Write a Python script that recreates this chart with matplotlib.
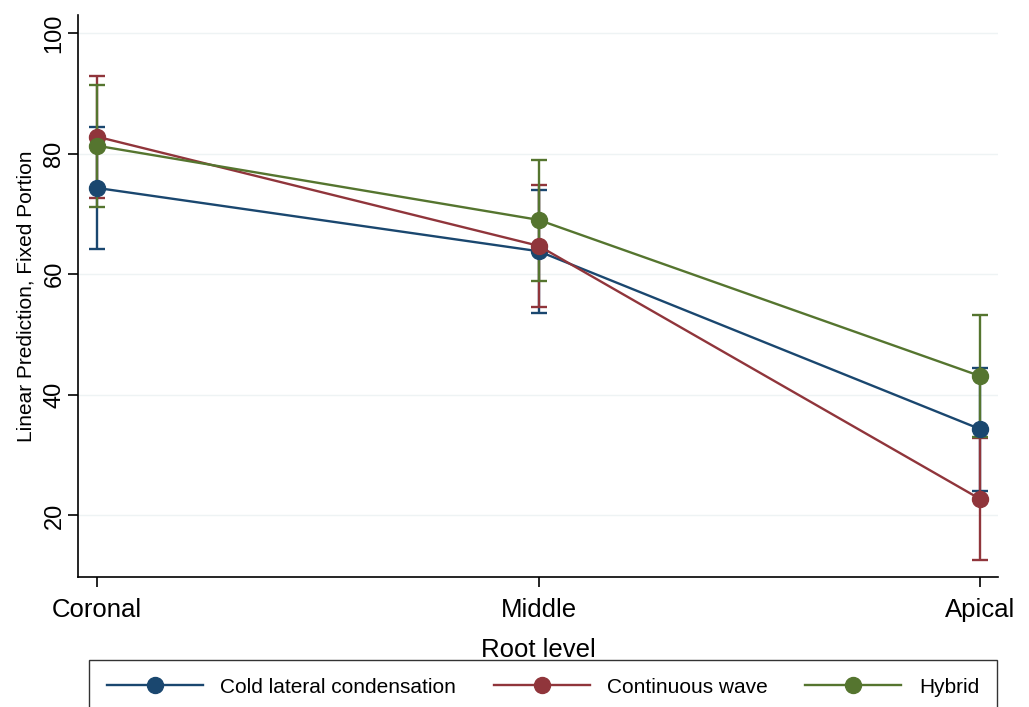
import numpy as np
import matplotlib.pyplot as plt

plt.rcParams['font.family'] = ['Liberation Sans', 'DejaVu Sans']

levels = ['Coronal', 'Middle', 'Apical']
groups = ['Cold lateral condensation', 'Continuous wave', 'Hybrid']
colors = ['#1a476f', '#90353b', '#55752f']

# point estimates and 95% CI bounds
cold_mean = [74.3, 63.8, 34.3]
cold_lo = [64.2, 53.6, 24.1]
cold_hi = [84.4, 74.0, 44.4]

wave_mean = [82.8, 64.7, 22.7]
wave_lo = [72.6, 54.6, 12.6]
wave_hi = [92.9, 74.8, 32.8]

hyb_mean = [81.3, 69.0, 43.1]
hyb_lo = [71.1, 58.8, 33.0]
hyb_hi = [91.3, 79.0, 53.2]

means = [cold_mean, wave_mean, hyb_mean]
lows = [cold_lo, wave_lo, hyb_lo]
highs = [cold_hi, wave_hi, hyb_hi]

fig = plt.figure(figsize=(10.29, 7.07), dpi=100)
ax = fig.add_axes([0.0758, 0.184, 0.894, 0.795])
x = np.arange(1, len(levels) + 1)

# CIs first, then lines with markers
for m, lo, hi, c in zip(means, lows, highs, colors):
    m = np.array(m); lo = np.array(lo); hi = np.array(hi)
    ax.errorbar(x, m, yerr=[m - lo, hi - m], fmt='none', ecolor=c,
                elinewidth=1.7, capsize=6, capthick=1.7, zorder=2)
handles = []
for m, c, g in zip(means, colors, groups):
    h, = ax.plot(x, m, '-o', color=c, lw=1.7, markersize=11.5, label=g, zorder=3)
    handles.append(h)

ax.set_xlim(0.957, 3.04)
ax.set_ylim(9.8, 103)
ax.set_xticks(x)
ax.set_xticklabels(levels, fontsize=18.5)
ax.set_yticks([20, 40, 60, 80, 100])
ax.set_yticklabels(['20', '40', '60', '80', '100'], fontsize=17, rotation=90, va='center')
ax.tick_params(axis='both', length=7, width=1.2, direction='out')
ax.tick_params(axis='x', pad=8)
ax.tick_params(axis='y', pad=2)
ax.yaxis.grid(True, color='#eef3f4', lw=1)
ax.set_axisbelow(True)
for s in ['top', 'right']:
    ax.spines[s].set_visible(False)
ax.spines['left'].set_linewidth(1.2)
ax.spines['bottom'].set_linewidth(1.2)
ax.set_xlabel('Root level', fontsize=18.5, labelpad=12)
ax.set_ylabel('Linear Prediction, Fixed Portion', fontsize=15, labelpad=6)

leg = fig.legend(handles=handles, loc='upper center', bbox_to_anchor=(0.5277, 0.0665),
                 ncol=3, fontsize=15, frameon=True, fancybox=False,
                 edgecolor='black', handlelength=4.6, handletextpad=0.85,
                 columnspacing=1.8, borderpad=0.85, borderaxespad=0,
                 markerscale=1.0)
leg.get_frame().set_linewidth(1.0)

fig.savefig('out.png', dpi=100)
